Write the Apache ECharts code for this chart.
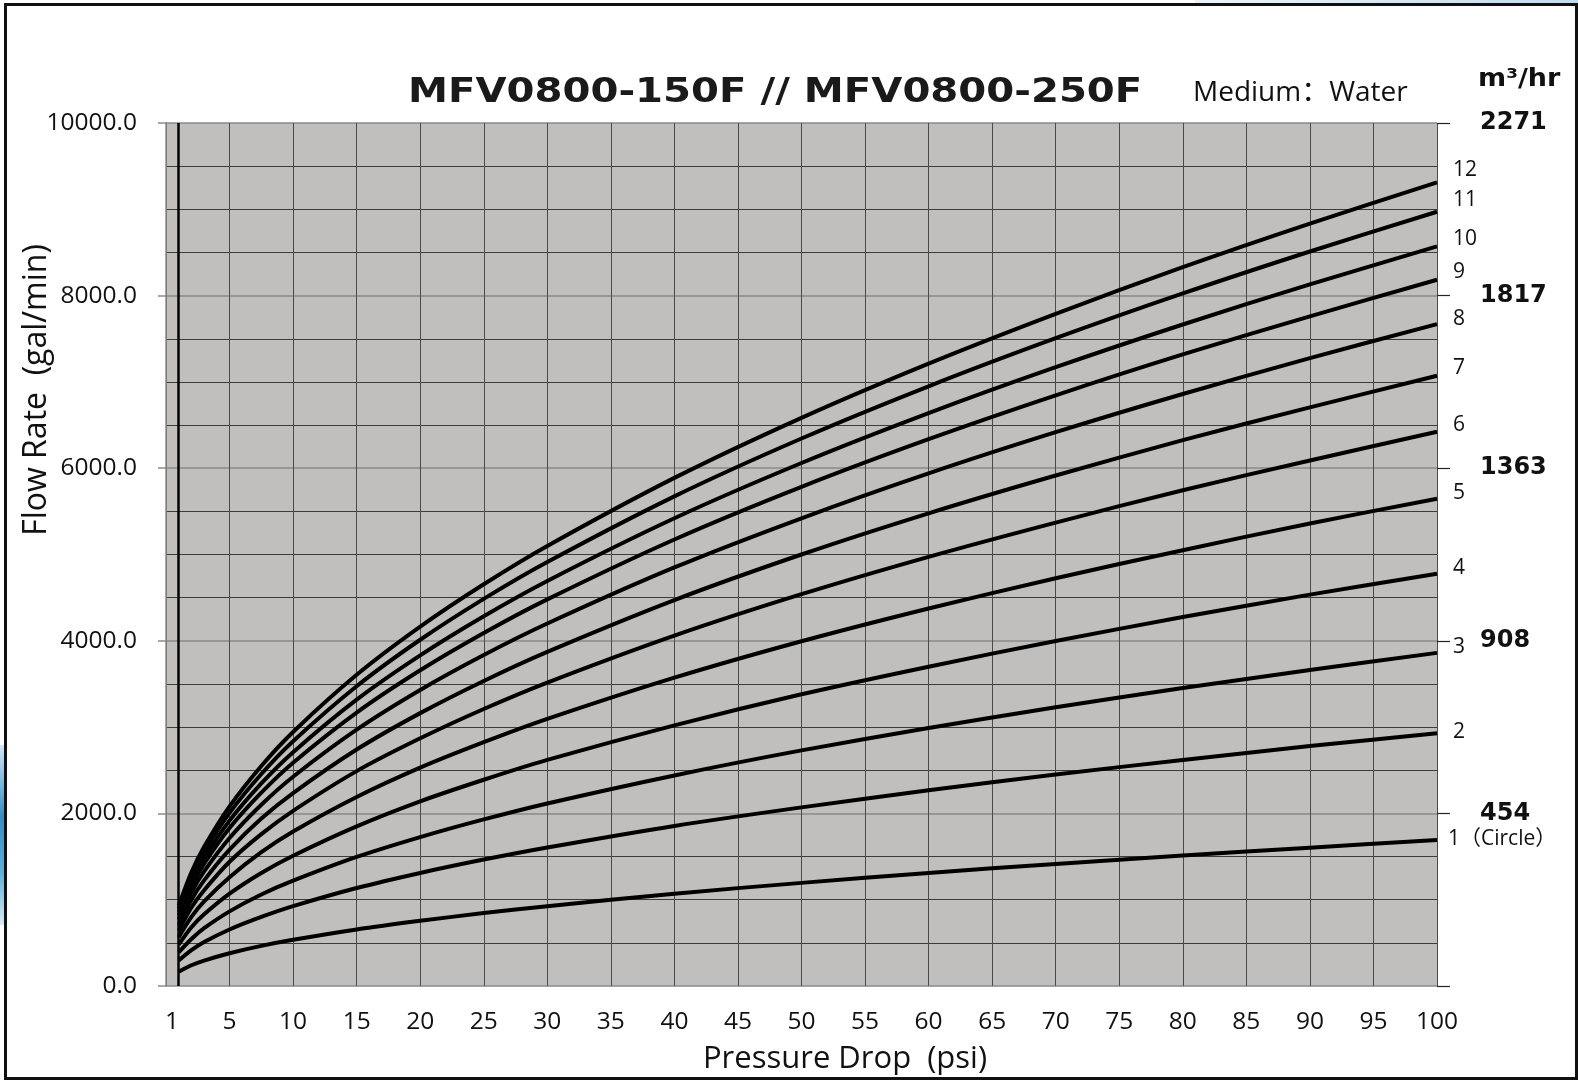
<!DOCTYPE html>
<html>
<head>
<meta charset="utf-8">
<script src="https://cdn.jsdelivr.net/npm/echarts@6/dist/echarts.min.js"></script>
<style>
html,body{margin:0;padding:0;background:#fff;}
#chart{position:absolute;left:0;top:0;width:1578px;height:1080px;}
#frame{position:absolute;left:4px;top:3px;width:1574px;height:1077px;box-sizing:border-box;border:3px solid #111;pointer-events:none;}
#blueTop{position:absolute;left:1195px;top:0;width:383px;height:4px;background:linear-gradient(90deg,#eaf4fb,#bfdcf0);}
#blueLeft{position:absolute;left:0;top:745px;width:5px;height:180px;background:linear-gradient(180deg,#cfe6f5,#2f8fc9 40%,#5aaedc 70%,#d6ebf7);}
</style>
</head>
<body>
<div id="chart"></div>
<div id="blueTop"></div>
<div id="blueLeft"></div>
<div id="frame"></div>
<script>
// Pressure drop (psi) sample points
const psi = [1, 2, 3, 5, 7.5, 10, 15, 20, 25, 30, 40, 50, 60, 70, 80, 90, 100];

// Flow rate (gal/min) per valve opening
const curve1  = [165, 240, 295, 380, 465, 535, 655, 755, 845, 925, 1070, 1195, 1310, 1415, 1512, 1603, 1692];
const curve2  = [295, 415, 510, 655, 800, 925, 1135, 1310, 1465, 1605, 1855, 2070, 2268, 2450, 2620, 2780, 2929];
const curve3  = [390, 545, 670, 865, 1060, 1220, 1495, 1725, 1930, 2115, 2440, 2730, 2990, 3230, 3452, 3662, 3860];
const curve4  = [480, 680, 830, 1070, 1310, 1510, 1850, 2140, 2390, 2620, 3020, 3380, 3700, 3998, 4275, 4535, 4776];
const curve5  = [565, 800, 980, 1260, 1550, 1790, 2190, 2530, 2825, 3095, 3573, 3995, 4375, 4725, 5050, 5360, 5645];
const curve6  = [640, 910, 1110, 1440, 1760, 2030, 2490, 2870, 3210, 3516, 4060, 4540, 4973, 5370, 5745, 6090, 6422];
const curve7  = [707, 1000, 1224, 1580, 1940, 2236, 2740, 3162, 3535, 3872, 4472, 5000, 5477, 5915, 6325, 6705, 7071];
const curve8  = [767, 1085, 1328, 1715, 2100, 2425, 2970, 3430, 3835, 4200, 4850, 5420, 5940, 6417, 6860, 7275, 7670];
const curve9  = [818, 1157, 1417, 1830, 2240, 2587, 3168, 3658, 4090, 4480, 5174, 5784, 6336, 6844, 7318, 7760, 8184];
const curve10 = [857, 1212, 1484, 1916, 2347, 2710, 3319, 3832, 4285, 4694, 5420, 6060, 6638, 7170, 7665, 8130, 8570];
const curve11 = [897, 1269, 1554, 2006, 2457, 2837, 3474, 4012, 4486, 4913, 5674, 6344, 6949, 7506, 8025, 8511, 8972];
const curve12 = [931, 1317, 1613, 2082, 2550, 2944, 3606, 4164, 4655, 5099, 5888, 6584, 7212, 7789, 8330, 8835, 9311];

const curveNames = ['1（Circle）', '2', '3', '4', '5', '6', '7', '8', '9', '10', '11', '12'];

// Axis ticks
const galTicks = [0, 2000, 4000, 6000, 8000, 10000];
const m3Ticks  = ['', '454', '908', '1363', '1817', '2271'];

const title = 'MFV0800-150F // MFV0800-250F';
const mediumText = 'Medium：Water';
const unitRight = 'm³/hr';
const yName = 'Flow Rate  (gal/min)';
const xName = 'Pressure Drop  (psi)';

const allCurves = [curve1, curve2, curve3, curve4, curve5, curve6, curve7, curve8, curve9, curve10, curve11, curve12];

// label offsets (style only)
const labelOffsets = [[6, -1], [11, -1], [11, -6], [11, -6], [11, -6], [11, -7], [11, -8], [11, -5], [11, -8], [11, -7], [11, -12], [11, -12]];

const series = allCurves.map((vals, i) => ({
  name: curveNames[i],
  type: 'line',
  xAxisIndex: 0,
  yAxisIndex: 0,
  data: psi.map((p, k) => [p, vals[k]]),
  smooth: 0.3,
  showSymbol: false,
  symbol: 'none',
  silent: true,
  lineStyle: { color: '#000', width: 4 },
  endLabel: {
    show: true,
    formatter: curveNames[i],
    offset: labelOffsets[i],
    distance: 5,
    color: '#111',
    fontFamily: 'Open Sans, Noto Sans CJK SC, sans-serif',
    fontSize: 21
  },
  markLine: i === 0 ? {
    silent: true,
    symbol: 'none',
    label: { show: false },
    lineStyle: { color: '#000', width: 2.5, type: 'solid' },
    data: [{ xAxis: 1 }],
    z: 10
  } : undefined,
  z: 5
}));

const chart = echarts.init(document.getElementById('chart'), null, { renderer: 'canvas' });
chart.setOption({
  animation: false,
  backgroundColor: 'transparent',
  grid: {
    left: 166, right: 141, top: 123, bottom: 94,
    show: true, backgroundColor: '#c0bfbe', borderWidth: 0
  },
  xAxis: {
    type: 'value', min: 0, max: 100, interval: 5,
    axisLine: { show: false },
    axisTick: { show: false },
    axisLabel: {
      formatter: v => (v === 0 ? '{s|1}' : String(v)),
      rich: { s: { padding: [0, 0, 0, 12], fontSize: 24.5, fontFamily: 'Open Sans, sans-serif', color: '#111' } },
      color: '#111', fontSize: 24.5, fontFamily: 'Open Sans, sans-serif', margin: 24
    },
    splitLine: { show: true, lineStyle: { color: '#4a4a4a', width: 1 } }
  },
  yAxis: [
    {
      type: 'value', min: galTicks[0], max: galTicks[galTicks.length - 1], interval: 2000,
      position: 'left',
      axisLine: { show: true, lineStyle: { color: '#8c8c8c', width: 1.5 } },
      axisTick: { show: true, length: 8, lineStyle: { color: '#8c8c8c', width: 1.5 } },
      minorTick: { show: false, splitNumber: 4 },
      minorSplitLine: { show: true, lineStyle: { color: '#3c3c3c', width: 1 } },
      splitLine: { show: true, lineStyle: { color: '#8a8a8a', width: 1.5 } },
      axisLabel: {
        formatter: v => v.toFixed(1),
        color: '#111', fontSize: 24.5, fontFamily: 'Open Sans, sans-serif', margin: 29
      }
    },
    {
      type: 'value', min: galTicks[0], max: galTicks[galTicks.length - 1], interval: 2000,
      position: 'right',
      axisLine: { show: false },
      axisTick: { show: true, length: 13, lineStyle: { color: '#222', width: 1.2 } },
      splitLine: { show: false },
      axisLabel: {
        formatter: v => m3Ticks[galTicks.indexOf(v)],
        color: '#111', fontSize: 24, fontWeight: 'bold', fontFamily: 'DejaVu Sans, sans-serif', margin: 43
      }
    }
  ],
  series: series,
  graphic: [
    {
      type: 'text', x: 408, y: 93, scaleX: 1.218, scaleY: 1,
      style: { text: title, fill: '#1a1a1a', font: 'bold 33px "DejaVu Sans", sans-serif', textAlign: 'left', textVerticalAlign: 'middle' }
    },
    {
      type: 'text', x: 1193, y: 93,
      style: { text: mediumText, fill: '#111', font: '28px "Open Sans", "Noto Sans CJK SC", sans-serif', textAlign: 'left', textVerticalAlign: 'middle' }
    },
    {
      type: 'text', x: 1478, y: 79, scaleX: 1.08,
      style: { text: unitRight, fill: '#111', font: 'bold 25px "DejaVu Sans", sans-serif', textAlign: 'left', textVerticalAlign: 'middle' }
    },
    {
      type: 'text', x: 37, y: 390, rotation: Math.PI / 2,
      style: { text: yName, fill: '#111', font: '32px "Open Sans", sans-serif', textAlign: 'center', textVerticalAlign: 'middle' }
    },
    {
      type: 'text', x: 845, y: 1059,
      style: { text: xName, fill: '#111', font: '31px "Open Sans", sans-serif', textAlign: 'center', textVerticalAlign: 'middle' }
    }
  ]
});
</script>
</body>
</html>
